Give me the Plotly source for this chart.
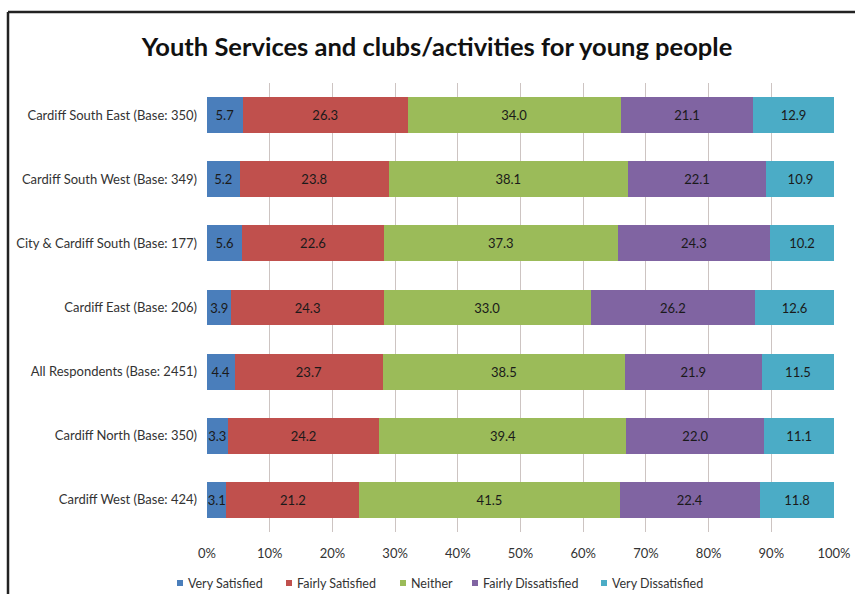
import plotly.graph_objects as go

# Survey areas, top to bottom
areas = [
    "Cardiff South East (Base: 350)",
    "Cardiff South West (Base: 349)",
    "City & Cardiff South (Base: 177)",
    "Cardiff East (Base: 206)",
    "All Respondents (Base: 2451)",
    "Cardiff North (Base: 350)",
    "Cardiff West (Base: 424)",
]

# Response shares (%) per area
very_satisfied = [5.7, 5.2, 5.6, 3.9, 4.4, 3.3, 3.1]
fairly_satisfied = [26.3, 23.8, 22.6, 24.3, 23.7, 24.2, 21.2]
neither = [34.0, 38.1, 37.3, 33.0, 38.5, 39.4, 41.5]
fairly_dissatisfied = [21.1, 22.1, 24.3, 26.2, 21.9, 22.0, 22.4]
very_dissatisfied = [12.9, 10.9, 10.2, 12.6, 11.5, 11.1, 11.8]

series = [
    ("Very Satisfied", very_satisfied, "#4a7ebb"),
    ("Fairly Satisfied", fairly_satisfied, "#c0504d"),
    ("Neither", neither, "#9bbb59"),
    ("Fairly Dissatisfied", fairly_dissatisfied, "#8064a2"),
    ("Very Dissatisfied", very_dissatisfied, "#4bacc6"),
]

x_ticks = list(range(0, 101, 10))
x_tick_labels = [f"{t}%" for t in x_ticks]

FONT = "Lato, Carlito, 'Open Sans', sans-serif"

fig = go.Figure()
for name, vals, color in series:
    fig.add_trace(go.Bar(
        y=areas,
        x=vals,
        name=name,
        orientation="h",
        marker=dict(color=color, line=dict(width=0)),
        width=0.56,
        text=vals,
        texttemplate="%{x:.1f}",
        textposition="inside",
        insidetextanchor="middle",
        textangle=0,
        textfont=dict(family=FONT, size=13, color="#1a1a1a"),
        hoverinfo="skip",
        showlegend=False,
    ))

# Plot-area edges in pixels, and pixel -> paper conversion
L, R, T, B = 207, 834, 83, 532
def px(xp):
    return (xp - L) / (R - L)
def py(yp):
    return (B - yp) / (B - T)

frame = dict(color="#222222", width=2.5)
shapes = [
    dict(type="line", xref="paper", yref="paper",
         x0=px(8), x1=px(8), y0=py(12), y1=py(600), line=frame),
    dict(type="line", xref="paper", yref="paper",
         x0=px(8), x1=px(860), y0=py(12), y1=py(12), line=frame),
]

# Legend row below the axis: small square key followed by its label
legend_key_left = [177, 286, 400, 472, 601]
legend_y = 583
annotations = []
for (name, _, color), kx in zip(series, legend_key_left):
    shapes.append(dict(
        type="rect", xref="paper", yref="paper",
        x0=px(kx), x1=px(kx + 6), y0=py(legend_y + 3), y1=py(legend_y - 3),
        fillcolor=color, line=dict(width=0),
    ))
    annotations.append(dict(
        text=name, xref="paper", yref="paper",
        x=px(kx + 9), y=py(legend_y), xanchor="left", yanchor="middle",
        showarrow=False,
        font=dict(family=FONT, size=12.5, color="#333333"),
    ))

fig.update_layout(
    width=855,
    height=594,
    margin=dict(l=L, r=855 - R, t=T, b=594 - B, autoexpand=False),
    paper_bgcolor="white",
    plot_bgcolor="white",
    barmode="stack",
    title=dict(
        text="<b>Youth Services and clubs/activities for young people</b>",
        x=px(437), xref="paper", xanchor="center",
        y=1 - 47 / 594, yref="container", yanchor="middle",
        font=dict(family=FONT, size=25.5, color="#111111"),
    ),
    xaxis=dict(
        range=[0, 100],
        tickvals=x_ticks,
        ticktext=x_tick_labels,
        showgrid=True,
        gridcolor="#cdc4c2",
        gridwidth=1,
        zeroline=False,
        showline=False,
        ticks="",
        ticklabelstandoff=12,
        automargin=False,
        tickfont=dict(family=FONT, size=13, color="#333333"),
    ),
    yaxis=dict(
        categoryorder="array",
        categoryarray=areas,
        autorange="reversed",
        showgrid=False,
        zeroline=False,
        showline=False,
        ticks="",
        ticklabelstandoff=9,
        automargin=False,
        tickfont=dict(family=FONT, size=13, color="#333333"),
    ),
    uniformtext=dict(minsize=12, mode="show"),
    shapes=shapes,
    annotations=annotations,
    showlegend=False,
)

fig.write_html("out.html")
